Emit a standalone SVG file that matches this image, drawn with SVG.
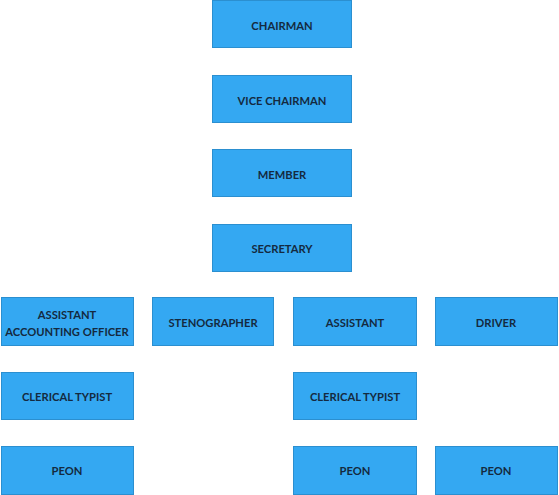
<svg xmlns="http://www.w3.org/2000/svg" width="559" height="495" viewBox="0 0 559 495">
<style>
.box{fill:#34a8f2;stroke:#2b8fd0;stroke-width:1}
.t{font-family:Lato,"Open Sans","Liberation Sans",sans-serif;font-weight:bold;font-size:11.2px;fill:#142a40;text-anchor:middle;dominant-baseline:central}
</style>
<rect width="559" height="495" fill="#ffffff"/>
<g id="connectors"></g>
<g id="chairman"><rect class="box" x="212.5" y="0.5" width="139" height="47"/><text class="t" x="282" y="25">CHAIRMAN</text></g>
<g id="vice-chairman"><rect class="box" x="212.5" y="75.5" width="139" height="47"/><text class="t" x="282" y="100">VICE CHAIRMAN</text></g>
<g id="member"><rect class="box" x="212.5" y="149.5" width="139" height="47"/><text class="t" x="282" y="174">MEMBER</text></g>
<g id="secretary"><rect class="box" x="212.5" y="224.5" width="139" height="47"/><text class="t" x="282" y="248">SECRETARY</text></g>
<g id="aao"><rect class="box" x="1.5" y="297.5" width="132" height="48"/><text class="t" x="67" y="314">ASSISTANT</text><text class="t" x="67" y="331">ACCOUNTING OFFICER</text></g>
<g id="stenographer"><rect class="box" x="152.5" y="297.5" width="121" height="48"/><text class="t" x="213" y="322">STENOGRAPHER</text></g>
<g id="assistant"><rect class="box" x="293.5" y="297.5" width="123" height="48"/><text class="t" x="355" y="322">ASSISTANT</text></g>
<g id="driver"><rect class="box" x="435.5" y="297.5" width="122" height="48"/><text class="t" x="496" y="322">DRIVER</text></g>
<g id="clerical-typist-1"><rect class="box" x="1.5" y="372.5" width="132" height="47"/><text class="t" x="67" y="396">CLERICAL TYPIST</text></g>
<g id="clerical-typist-2"><rect class="box" x="293.5" y="372.5" width="123" height="47"/><text class="t" x="355" y="396">CLERICAL TYPIST</text></g>
<g id="peon-1"><rect class="box" x="1.5" y="446.5" width="132" height="48"/><text class="t" x="67" y="470">PEON</text></g>
<g id="peon-2"><rect class="box" x="293.5" y="446.5" width="123" height="48"/><text class="t" x="355" y="470">PEON</text></g>
<g id="peon-3"><rect class="box" x="435.5" y="446.5" width="122" height="48"/><text class="t" x="496" y="470">PEON</text></g>
</svg>
